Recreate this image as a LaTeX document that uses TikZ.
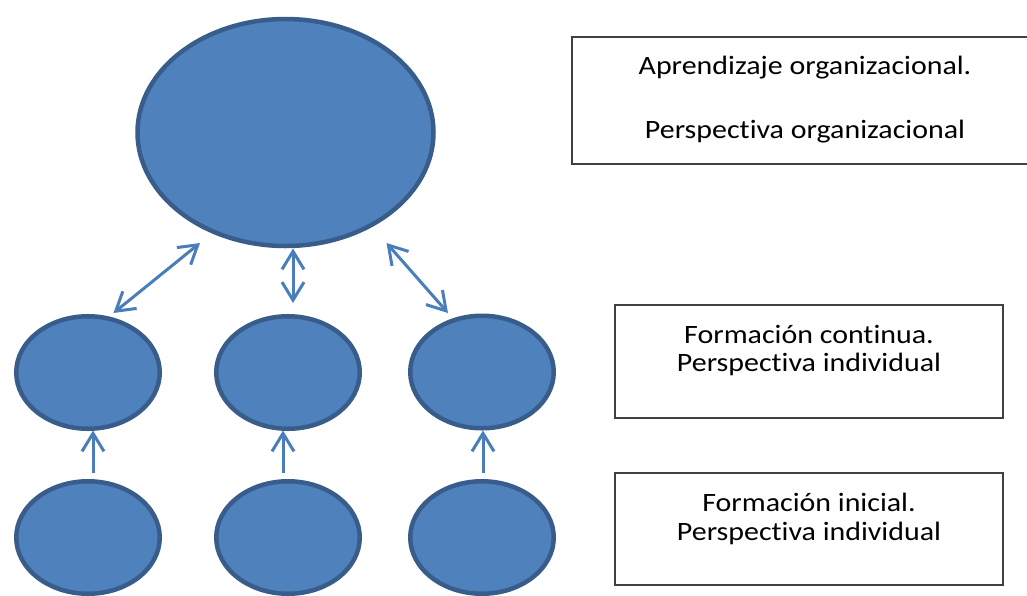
\documentclass[tikz,border=0pt]{standalone}
\usepackage{fontspec}
\setmainfont{Carlito}[Ligatures=NoCommon]
\newfontfamily\boxfont{Carlito}[Ligatures=NoCommon, FakeStretch=1.13]
\usetikzlibrary{shapes.geometric,arrows.meta}

\definecolor{blobfill}{HTML}{4F81BD}
\definecolor{blobline}{HTML}{385D8A}
\definecolor{linkblue}{HTML}{4A7EBB}
\definecolor{boxline}{HTML}{404040}

\tikzset{
  blob/.style={ellipse, draw=blobline, fill=blobfill, line width=4.5pt, inner sep=0pt},
  bigblob/.style={blob, minimum width=296pt, minimum height=227pt},
  smallblob/.style={blob, minimum width=143.5pt, minimum height=112.5pt},
  infobox/.style={rectangle, draw=boxline, line width=1.3pt, inner sep=0pt},
  label/.style={anchor=base, inner sep=0pt, font=\boxfont\fontsize{26.5}{30}\selectfont},
  barb/.tip={Straight Barb[length=18pt,width=22pt]},
  link/.style={draw=linkblue, line width=3pt, arrows={barb-barb}},
  uplink/.style={draw=linkblue, line width=3pt, arrows={-barb}}
}

\begin{document}
\begin{tikzpicture}[x=1pt,y=-1pt]
\useasboundingbox (0,0) rectangle (1027,595);

% organisation level
\node[bigblob] (org) at (285.5,132.5) {};

% continuous training level
\node[smallblob] (c1) at (88,372.5) {};
\node[smallblob] (c2) at (288,372.5) {};
\node[smallblob] (c3) at (482,372) {};

% initial training level
\node[smallblob] (i1) at (88,537.5) {};
\node[smallblob] (i2) at (288,537.5) {};
\node[smallblob] (i3) at (482,537.5) {};

% arrow end points between the levels
\coordinate (a1s) at (113.5,313);
\coordinate (a1e) at (200,243);
\coordinate (a2s) at (293,303);
\coordinate (a2e) at (293,248.5);
\coordinate (a3s) at (448,313);
\coordinate (a3e) at (386.5,243);
\coordinate (u1s) at (93,473);
\coordinate (u1e) at (93,430.5);
\coordinate (u2s) at (283,473);
\coordinate (u2e) at (283,430.5);
\coordinate (u3s) at (483,473);
\coordinate (u3e) at (483,430.5);

\draw[link] (a1s) -- (a1e);
\draw[link] (a2s) -- (a2e);
\draw[link] (a3s) -- (a3e);
\draw[uplink] (u1s) -- (u1e);
\draw[uplink] (u2s) -- (u2e);
\draw[uplink] (u3s) -- (u3e);

% explanatory boxes
\node[infobox, minimum width=466pt, minimum height=127pt] (boxorg) at (805,100.5) {};
\node[label] (torg1) at (805,74.5) {Aprendizaje organizacional.};
\node[label] (torg2) at (805,138) {Perspectiva organizacional};

\node[infobox, minimum width=388pt, minimum height=113pt] (boxcont) at (809,361.5) {};
\node[label] (tcont1) at (809,343) {Formación continua.};
\node[label] (tcont2) at (809,371.5) {Perspectiva individual};

\node[infobox, minimum width=388pt, minimum height=112pt] (boxini) at (809,529) {};
\node[label] (tini1) at (809,511) {Formación inicial.};
\node[label] (tini2) at (809,540) {Perspectiva individual};
\end{tikzpicture}
\end{document}
